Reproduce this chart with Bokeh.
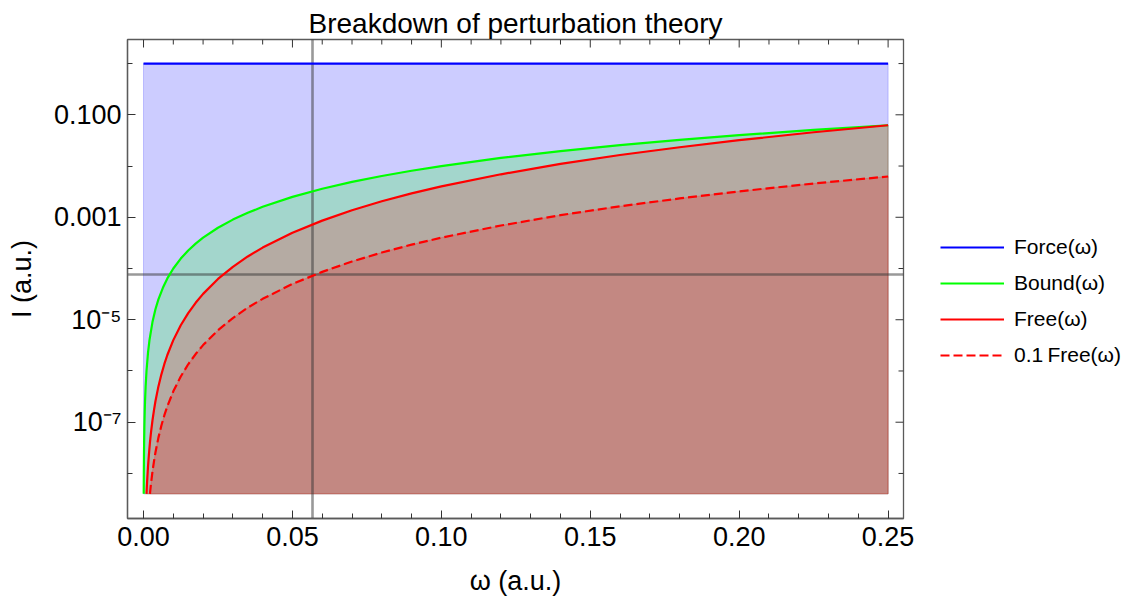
import numpy as np
from bokeh.plotting import figure
from bokeh.models import FixedTicker, Legend, LegendItem, Range1d
from bokeh.embed import file_html
from bokeh.resources import INLINE

# Intensities (a.u.) against photon frequency omega (a.u.)
force_omega = [0.0, 0.25]
force_I = [1.0, 1.0]

bound_omega = [0.0000632, 0.0001, 0.00015, 0.0002, 0.0003, 0.0004, 0.0005, 0.0007,
               0.001, 0.0015, 0.002, 0.003, 0.004, 0.005, 0.0065, 0.008, 0.01,
               0.0125, 0.015, 0.0175, 0.02, 0.025, 0.03, 0.035, 0.04, 0.05, 0.06,
               0.07, 0.08, 0.09, 0.10, 0.12, 0.14, 0.16, 0.18, 0.20, 0.225, 0.25]
bound_I = [4.0e-9, 1.0e-8, 2.25e-8, 4.0e-8, 9.0e-8, 1.6e-7, 2.5e-7, 4.9e-7,
           1.0e-6, 2.25e-6, 4.0e-6, 9.0e-6, 1.6e-5, 2.5e-5, 4.2e-5, 6.4e-5, 1.0e-4,
           1.56e-4, 2.25e-4, 3.06e-4, 4.0e-4, 6.25e-4, 9.0e-4, 1.22e-3, 1.6e-3, 2.5e-3, 3.6e-3,
           4.9e-3, 6.4e-3, 8.1e-3, 1.0e-2, 1.44e-2, 1.96e-2, 2.56e-2, 3.24e-2, 4.0e-2, 5.06e-2, 6.25e-2]

free_omega = [0.0010, 0.0012, 0.0015, 0.0018, 0.00215, 0.0025, 0.003, 0.0035, 0.004,
              0.005, 0.006, 0.007, 0.008, 0.01, 0.0125, 0.015, 0.0175, 0.02, 0.025,
              0.03, 0.035, 0.04, 0.05, 0.06, 0.07, 0.08, 0.09, 0.10, 0.12, 0.14,
              0.16, 0.18, 0.20, 0.225, 0.25]
free_I = [4.0e-9, 6.9e-9, 1.35e-8, 2.3e-8, 4.0e-8, 6.25e-8, 1.08e-7, 1.7e-7, 2.56e-7,
          5.0e-7, 8.6e-7, 1.37e-6, 2.05e-6, 4.0e-6, 7.8e-6, 1.35e-5, 2.14e-5, 3.2e-5, 6.25e-5,
          1.08e-4, 1.72e-4, 2.56e-4, 5.0e-4, 8.6e-4, 1.37e-3, 2.05e-3, 2.92e-3, 4.0e-3, 6.9e-3, 1.10e-2,
          1.64e-2, 2.33e-2, 3.2e-2, 4.56e-2, 6.25e-2]

free_scale = 0.1          # dashed curve: 0.1 Free(omega)
floor_I = 4.0e-9          # lower edge of the filled regions
omega_ref = 0.0568        # vertical reference line
I_ref = 7.5e-5            # horizontal reference line

x_ticks = [0.0, 0.05, 0.10, 0.15, 0.20, 0.25]
x_tick_labels = ["0.00", "0.05", "0.10", "0.15", "0.20", "0.25"]
x_minor = [0.01, 0.02, 0.03, 0.04, 0.06, 0.07, 0.08, 0.09, 0.11, 0.12, 0.13, 0.14,
           0.16, 0.17, 0.18, 0.19, 0.21, 0.22, 0.23, 0.24]
y_ticks = [1e-1, 1e-3, 1e-5, 1e-7]
y_tick_labels = ["0.100", "0.001", "10\u207b\u2075", "10\u207b\u2077"]
y_minor = [1.0, 1e-2, 1e-4, 1e-6, 1e-8]

legend_labels = ["Force(ω)", "Bound(ω)", "Free(ω)", "0.1\u2009Free(ω)"]

X0, X1 = -0.00538, 0.25517
Y0, Y1 = 1.32e-9, 2.95
FRAME_W, FRAME_H = 776, 479
MAJ_LEN, MIN_LEN = 8, 5

FONT = "Liberation Sans"
FS = "27px"
FRAME = "#5a5a5a"
TICK = "#333333"

# dashed series, kept only where it is inside the plotted range
scaled = free_scale * np.array(free_I)
keep = scaled >= floor_I * 0.999
tenth_omega = list(np.array(free_omega)[keep])
tenth_I = list(scaled[keep])

p = figure(frame_width=FRAME_W, frame_height=FRAME_H, y_axis_type="log",
           x_range=Range1d(X0, X1), y_range=Range1d(Y0, Y1),
           output_backend="svg", toolbar_location=None,
           min_border_left=127, min_border_right=219, min_border_top=39, min_border_bottom=87,
           title="Breakdown of perturbation theory")
p.background_fill_color = "white"
p.border_fill_color = "white"
p.outline_line_color = FRAME
p.outline_line_width = 1.3
p.grid.visible = False

p.title.align = "center"
p.title.text_font = FONT
p.title.text_font_size = "28px"
p.title.text_font_style = "normal"
p.title.text_color = "black"
p.title.standoff = 2

def style_axis(ax):
    ax.axis_line_color = FRAME
    ax.axis_line_width = 1.3
    ax.major_tick_line_color = TICK
    ax.minor_tick_line_color = TICK
    ax.major_tick_in = MAJ_LEN
    ax.major_tick_out = 0
    ax.minor_tick_in = MIN_LEN
    ax.minor_tick_out = 0
    ax.major_label_text_font = FONT
    ax.major_label_text_font_size = FS
    ax.major_label_text_color = "black"
    ax.axis_label_text_font = FONT
    ax.axis_label_text_font_size = FS
    ax.axis_label_text_font_style = "normal"
    ax.axis_label_text_color = "black"

xa = p.xaxis[0]
xa.ticker = FixedTicker(ticks=x_ticks, minor_ticks=x_minor)
xa.major_label_overrides = dict(zip(x_ticks, x_tick_labels))
xa.axis_label = "ω (a.u.)"
style_axis(xa)
xa.major_label_standoff = 8
xa.axis_label_standoff = 17

ya = p.yaxis[0]
ya.ticker = FixedTicker(ticks=y_ticks, minor_ticks=y_minor)
ya.major_label_overrides = dict(zip(y_ticks, y_tick_labels))
ya.axis_label = "I (a.u.)"
style_axis(ya)
ya.major_label_standoff = 6
ya.axis_label_standoff = 14

# unlabelled inward ticks along the top and right edges of the frame
decades_per_px = (np.log10(Y1) - np.log10(Y0)) / FRAME_H
units_per_px = (X1 - X0) / FRAME_W
for ticks, n in ((x_ticks, MAJ_LEN), (x_minor, MIN_LEN)):
    p.segment(x0=ticks, y0=[Y1] * len(ticks), x1=ticks,
              y1=[Y1 / 10 ** (n * decades_per_px)] * len(ticks),
              line_color=TICK, line_width=1)
for ticks, n in ((y_ticks, MAJ_LEN), (y_minor, MIN_LEN)):
    p.segment(x0=[X1] * len(ticks), y0=ticks, x1=[X1 - n * units_per_px] * len(ticks),
              y1=ticks, line_color=TICK, line_width=1)

# filled regions down to the floor, drawn as translucent polygons
def fill(omega, vals, color):
    xs = [omega[0]] + list(omega) + [omega[-1]]
    ys = [floor_I] + list(vals) + [floor_I]
    p.patch(xs, ys, fill_color=color, fill_alpha=0.2,
            line_color=color, line_alpha=0.2, line_width=1)

fill(force_omega, force_I, "#0000ff")
fill(bound_omega, bound_I, "#00ff00")
fill(free_omega, free_I, "#ff0000")
fill(tenth_omega, tenth_I, "#ff0000")

# reference lines
p.vspan(x=[omega_ref], line_color="#333333", line_alpha=0.5, line_width=2.6)
p.hspan(y=[I_ref], line_color="#333333", line_alpha=0.5, line_width=2.6)

r_force = p.line(force_omega, force_I, line_color="#0000ff", line_width=2.2)
r_bound = p.line(bound_omega, bound_I, line_color="#00ff00", line_width=2.2)
r_free = p.line(free_omega, free_I, line_color="#ff0000", line_width=2.2)
r_tenth = p.line(tenth_omega, tenth_I, line_color="#ff0000", line_width=2.2,
                 line_dash="9 4")

legend = Legend(items=[LegendItem(label=lab, renderers=[r])
                       for lab, r in zip(legend_labels, [r_force, r_bound, r_free, r_tenth])],
                location=(37, 151))
legend.label_text_font = FONT
legend.label_text_font_size = "21px"
legend.label_text_color = "black"
legend.glyph_width = 64
legend.glyph_height = 20
legend.label_standoff = 10
legend.spacing = 12
legend.border_line_color = None
legend.background_fill_alpha = 0
legend.padding = 0
legend.margin = 0
p.add_layout(legend, "right")

open("out.html", "w").write(file_html(p, INLINE))
